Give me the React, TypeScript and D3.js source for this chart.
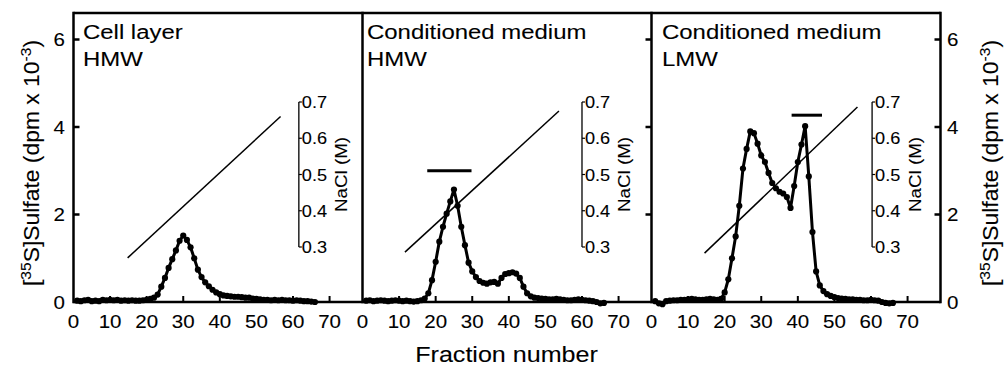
import React from "react";
import * as d3 from "d3";

// ---------- data ----------
const FRACTIONS = d3.range(1, 67);

const CELL_LAYER_HMW = [
  0.03, 0.02, 0.04, 0.05, 0.02, 0.03, 0.02, 0.05, 0.04, 0.05,
  0.04, 0.05, 0.03, 0.04, 0.03, 0.04, 0.03, 0.03, 0.04, 0.05,
  0.07, 0.1, 0.17, 0.35, 0.55, 0.78, 0.98, 1.18, 1.4, 1.52,
  1.42, 1.25, 1.0, 0.74, 0.57, 0.45, 0.36, 0.28, 0.22, 0.18,
  0.15, 0.14, 0.13, 0.12, 0.12, 0.11, 0.1, 0.1, 0.08, 0.07,
  0.06, 0.05, 0.05, 0.04, 0.05, 0.04, 0.05, 0.04, 0.04, 0.03,
  0.04, 0.03, 0.02, 0.02, 0.01, 0.0,
];

const CM_HMW = [
  0.03, 0.04, 0.02, 0.03, 0.04, 0.03, 0.02, 0.03, 0.04, 0.03,
  0.02, 0.03, 0.02, 0.01, 0.02, 0.04, 0.08, 0.2, 0.5, 0.92,
  1.38, 1.72, 2.02, 2.3, 2.57, 2.2, 1.72, 1.3, 0.9, 0.7,
  0.57, 0.48, 0.44, 0.42, 0.45, 0.46, 0.42, 0.55, 0.64, 0.66,
  0.68, 0.65, 0.55, 0.35, 0.2, 0.13, 0.1, 0.09, 0.08, 0.07,
  0.06, 0.06, 0.07, 0.06, 0.05, 0.04, 0.04, 0.05, 0.06, 0.05,
  0.04, 0.03, 0.02, 0.0, -0.03, -0.02,
];

const CM_LMW = [
  0.02, -0.03, -0.05, 0.02, 0.03, 0.04, 0.04, 0.05, 0.05, 0.06,
  0.07, 0.06, 0.05, 0.05, 0.06, 0.07, 0.06, 0.05, 0.07, 0.22,
  0.52, 1.0, 1.5, 2.2, 3.05, 3.5, 3.9, 3.86, 3.62, 3.35,
  3.2, 2.95, 2.72, 2.6, 2.52, 2.48, 2.4, 2.15, 2.65, 3.2,
  3.6, 4.02, 2.87, 1.6, 0.7, 0.38, 0.25, 0.18, 0.14, 0.11,
  0.09, 0.08, 0.07, 0.06, 0.06, 0.05, 0.05, 0.04, 0.04, 0.05,
  0.04, 0.03, 0.0, -0.02, -0.03, -0.02,
];

const SERIES = [CELL_LAYER_HMW, CM_HMW, CM_LMW];
const PANEL_TITLES = [
  ["Cell layer", "HMW"],
  ["Conditioned medium", "HMW"],
  ["Conditioned medium", "LMW"],
];
const X_TICKS = [0, 10, 20, 30, 40, 50, 60, 70];
const Y_TICKS = [0, 2, 4, 6];
const NACL_TICKS = [0.3, 0.4, 0.5, 0.6, 0.7];
// NaCl gradient: [fraction, molarity] start and end
const GRADIENT_START_F = [14.8, 11.6, 14.5];
const GRADIENT_START_M = [0.27, 0.286, 0.283];
const GRADIENT_END_F = [56.6, 53.7, 56.3];
const GRADIENT_END_M = [0.66, 0.675, 0.686];
// pooled fraction bars
const POOL_FROM = [null, 17.7, 38.3];
const POOL_TO = [null, 29.8, 46.6];
const POOL_LEVEL = [null, 3.0, 4.27];
// position of the NaCl inset axis (fraction units)
const NACL_AXIS_AT = [61.6, 60.0, 60.3];

// ---------- layout ----------
const W = 1006;
const H = 370;
const LEFT = 73.5;
const PW = 289;
const TOP = 13;
const BOTTOM = 302;
const FONT = "'Liberation Sans', Arial, Helvetica, sans-serif";
const TITLE_DX = [9.5, 4.5, 10.5];

function SText({ x, y, size, anchor = "start", rotate = 0, children, sx = 1.14 }: any) {
  const tr = `translate(${x},${y})${rotate ? ` rotate(${rotate})` : ""} scale(${sx},1)`;
  return (
    <g transform={tr}>
      <text
        fontFamily={FONT}
        fontSize={size}
        textAnchor={anchor}
        fill="#000"
        stroke="#000"
        strokeWidth={0.1}
      >
        {children}
      </text>
    </g>
  );
}

export default function App() {
  const y = d3.scaleLinear().domain([0, 6]).range([BOTTOM, 39.5]);
  const nacl = d3.scaleLinear().domain([0.3, 0.7]).range([247, 102]);

  const panels = SERIES.map((vals, i) => {
    const x0 = LEFT + i * PW;
    const x = d3.scaleLinear().domain([0, 79]).range([x0, x0 + PW]);
    const pts = FRACTIONS.map((f, k) => [x(f), y(vals[k])] as [number, number]);
    const line = d3.line().curve(d3.curveLinear)(pts) || "";
    const ax = x(NACL_AXIS_AT[i]);
    return (
      <g key={i}>
        {/* x ticks (inside) */}
        {X_TICKS.filter((t) => t > 0).map((t) => (
          <line key={t} x1={x(t)} x2={x(t)} y1={BOTTOM} y2={BOTTOM - 6} stroke="#000" strokeWidth={2} />
        ))}
        {X_TICKS.map((t) => (
          <SText key={"l" + t} x={x(t)} y={328} size={18} anchor="middle">
            {String(t)}
          </SText>
        ))}
        {/* titles */}
        <SText x={x0 + TITLE_DX[i]} y={39} size={21}>{PANEL_TITLES[i][0]}</SText>
        <SText x={x0 + TITLE_DX[i]} y={65.5} size={21}>{PANEL_TITLES[i][1]}</SText>
        {/* gradient */}
        <line
          x1={x(GRADIENT_START_F[i])}
          y1={nacl(GRADIENT_START_M[i])}
          x2={x(GRADIENT_END_F[i])}
          y2={nacl(GRADIENT_END_M[i])}
          stroke="#000"
          strokeWidth={1.5}
        />
        {/* NaCl inset axis */}
        <line x1={ax} x2={ax} y1={nacl(0.7)} y2={nacl(0.3)} stroke="#000" strokeWidth={1.3} />
        {NACL_TICKS.map((t) => (
          <g key={t}>
            <line x1={ax} x2={ax + 3} y1={nacl(t)} y2={nacl(t)} stroke="#000" strokeWidth={1.2} />
            <SText x={ax + 3} y={nacl(t) + 6} size={16.5} sx={1.1}>{t.toFixed(1)}</SText>
          </g>
        ))}
        <SText x={ax + 48.5} y={174.5} size={16.5} anchor="middle" rotate={-90}>NaCl (M)</SText>
        {/* pooled bar */}
        {POOL_FROM[i] !== null && (
          <line
            x1={x(POOL_FROM[i] as number)}
            x2={x(POOL_TO[i] as number)}
            y1={y(POOL_LEVEL[i] as number)}
            y2={y(POOL_LEVEL[i] as number)}
            stroke="#000"
            strokeWidth={3}
          />
        )}
        {/* data */}
        <path d={line} fill="none" stroke="#000" strokeWidth={3} strokeLinejoin="round" />
        {pts.map((p, k) => (
          <circle key={k} cx={p[0]} cy={p[1]} r={3.1} fill="#000" />
        ))}
      </g>
    );
  });

  const R = LEFT + 3 * PW;
  const ytitle = (cx: number) => (
    <SText x={cx} y={163} size={22} anchor="middle" rotate={-90} sx={1.04}>
      [<tspan fontSize={15} dy={-8}>35</tspan>
      <tspan dy={8}>S]Sulfate (dpm x 10</tspan>
      <tspan fontSize={15} dy={-8}>-3</tspan>
      <tspan dy={8}>)</tspan>
    </SText>
  );

  return (
    <svg width={W} height={H} style={{ position: "absolute", left: 0, top: 0, background: "#fff" }}>
      <rect width={W} height={H} fill="#fff" />
      {panels}
      {/* frame */}
      <line x1={LEFT} x2={R} y1={TOP} y2={TOP} stroke="#000" strokeWidth={2.5} />
      <line x1={LEFT} x2={R} y1={BOTTOM} y2={BOTTOM} stroke="#000" strokeWidth={2.5} />
      {[0, 1, 2, 3].map((k) => (
        <line key={k} x1={LEFT + k * PW} x2={LEFT + k * PW} y1={TOP - 1.2} y2={BOTTOM + 1.2} stroke="#000" strokeWidth={2.5} />
      ))}
      {/* left y ticks (panel 1, inward) */}
      {Y_TICKS.filter((t) => t > 0).map((t) => (
        <line key={"a" + t} x1={LEFT} x2={LEFT + 6} y1={y(t)} y2={y(t)} stroke="#000" strokeWidth={2.5} />
      ))}
      {/* ticks at border 2/3 and right axis (pointing left) */}
      {[LEFT + 2 * PW, R].map((bx) =>
        Y_TICKS.filter((t) => t > 0).map((t) => (
          <line key={bx + "-" + t} x1={bx - 6} x2={bx} y1={y(t)} y2={y(t)} stroke="#000" strokeWidth={2.5} />
        ))
      )}
      {Y_TICKS.map((t) => (
        <SText key={"yl" + t} x={65} y={y(t) + 6.5} size={18} anchor="end">{String(t)}</SText>
      ))}
      {Y_TICKS.map((t) => (
        <SText key={"yr" + t} x={947} y={y(t) + 6.5} size={18}>{String(t)}</SText>
      ))}
      {ytitle(38.5)}
      {ytitle(998)}
      <SText x={506.5} y={362} size={22} anchor="middle">Fraction number</SText>
    </svg>
  );
}
